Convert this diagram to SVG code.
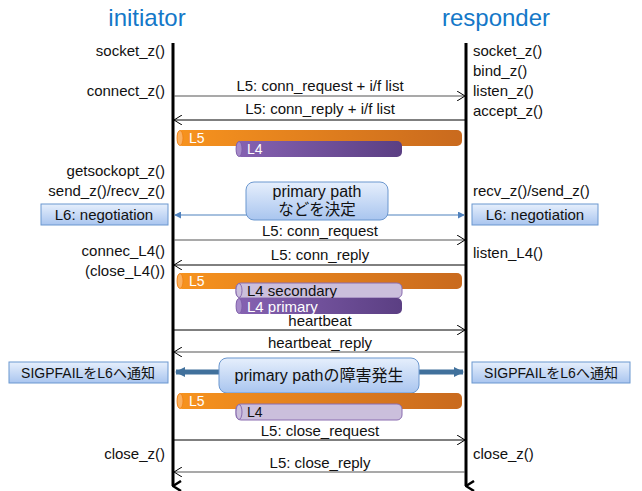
<svg xmlns="http://www.w3.org/2000/svg" width="642" height="491" viewBox="0 0 642 491">
<defs>
<linearGradient id="gOr" x1="0" x2="1" y1="0" y2="0"><stop offset="0" stop-color="#f7931e"/><stop offset="1" stop-color="#c96a1e"/></linearGradient>
<linearGradient id="gPu" x1="0" x2="1" y1="0" y2="0"><stop offset="0" stop-color="#8662b2"/><stop offset="1" stop-color="#5b3f83"/></linearGradient>
<linearGradient id="gBl" x1="0" x2="0" y1="0" y2="1"><stop offset="0" stop-color="#e6effc"/><stop offset="1" stop-color="#a9c5ef"/></linearGradient>
<marker id="open" viewBox="0 0 8 10" refX="8" refY="5" markerWidth="8" markerHeight="10" markerUnits="userSpaceOnUse" orient="auto-start-reverse"><path d="M0,0 L8,5 L0,10" fill="none" stroke="#000" stroke-width="1"/></marker>
<marker id="blu" viewBox="0 0 8 8" refX="7" refY="4" markerWidth="7" markerHeight="7" markerUnits="userSpaceOnUse" orient="auto-start-reverse"><path d="M0,0 L8,4 L0,8 Z" fill="#4f81bd"/></marker>
<marker id="thick" viewBox="0 0 10 10" refX="9" refY="5" markerWidth="10" markerHeight="12" markerUnits="userSpaceOnUse" orient="auto-start-reverse"><path d="M0,0 L10,5 L0,10 Z" fill="#41719c"/></marker>
<marker id="life" viewBox="0 0 12 10" refX="6" refY="9" markerWidth="12" markerHeight="10" markerUnits="userSpaceOnUse" orient="auto"><path d="M1,1 L6,9 L11,1" fill="none" stroke="#000" stroke-width="2.5"/></marker>
</defs>
<style>
text{font-family:"Liberation Sans","Noto Sans CJK JP",sans-serif;font-size:15px;fill:#111}
.title{font-size:24px;fill:#1478c8;text-anchor:middle}
.r{text-anchor:end}
.m{text-anchor:middle}
.sig{font-size:14px}
.msg{stroke:#000;stroke-width:1;fill:none}
.msgg{stroke:#555;stroke-width:1.2;fill:none}
.life{stroke:#000;stroke-width:3}
.box{fill:url(#gBl);stroke:#6b97cf;stroke-width:1}
.wt{fill:#fff}
.l5{fill:url(#gOr)}
.l4{fill:url(#gPu)}
.l4s{fill:#cbbfdc;stroke:#8a6db0;stroke-width:1}
.cap5{fill:#fbb060;stroke:#f07f10;stroke-width:0.8}
.cap4{fill:#a68ac9;stroke:#7a5aa5;stroke-width:0.8}
</style>

<g id="initiator"><text class="title" x="147" y="26">initiator</text></g>
<g id="responder"><text class="title" x="496" y="26">responder</text></g>

<g id="lifelines">
<line class="life" x1="173" y1="43" x2="173" y2="486" marker-end="url(#life)"/>
<line class="life" x1="466" y1="43" x2="466" y2="486" marker-end="url(#life)"/>
</g>

<g id="left-labels">
<text class="r" x="165" y="56">socket_z()</text>
<text class="r" x="165" y="96">connect_z()</text>
<text class="r" x="165" y="176">getsockopt_z()</text>
<text class="r" x="165" y="196">send_z()/recv_z()</text>
<text class="r" x="165" y="256">connec_L4()</text>
<text class="r" x="165" y="276">(close_L4())</text>
<text class="r" x="165" y="459">close_z()</text>
</g>
<g id="right-labels">
<text x="473" y="56">socket_z()</text>
<text x="473" y="76">bind_z()</text>
<text x="473" y="96">listen_z()</text>
<text x="473" y="116">accept_z()</text>
<text x="473" y="196">recv_z()/send_z()</text>
<text x="473" y="258">listen_L4()</text>
<text x="473" y="459">close_z()</text>
</g>

<g id="connectors">
<line class="msgg" x1="174" y1="96" x2="465" y2="96" marker-end="url(#open)"/>
<line class="msg" x1="465" y1="120" x2="174" y2="120" marker-end="url(#open)"/>
<line stroke="#4f81bd" stroke-width="1.2" x1="175" y1="215" x2="464" y2="215" marker-start="url(#blu)" marker-end="url(#blu)"/>
<line class="msgg" x1="174" y1="240" x2="465" y2="240" marker-end="url(#open)"/>
<line class="msg" x1="465" y1="265" x2="174" y2="265" marker-end="url(#open)"/>
<line class="msg" x1="174" y1="330" x2="465" y2="330" marker-end="url(#open)"/>
<line class="msgg" x1="465" y1="352" x2="174" y2="352" marker-end="url(#open)"/>
<line stroke="#41719c" stroke-width="5" x1="176" y1="372" x2="463" y2="372" marker-start="url(#thick)" marker-end="url(#thick)"/>
<line class="msg" x1="174" y1="440" x2="465" y2="440" marker-end="url(#open)"/>
<line class="msgg" x1="465" y1="472" x2="174" y2="472" marker-end="url(#open)"/>
</g>

<g id="msg-labels">
<text class="m" x="320" y="91">L5: conn_request + i/f list</text>
<text class="m" x="320" y="114">L5: conn_reply + i/f list</text>
<text class="m" x="320" y="236">L5: conn_request</text>
<text class="m" x="320" y="260">L5: conn_reply</text>
<text class="m" x="320" y="326">heartbeat</text>
<text class="m" x="320" y="348">heartbeat_reply</text>
<text class="m" x="320" y="436">L5: close_request</text>
<text class="m" x="320" y="468">L5: close_reply</text>
</g>

<g id="bars1">
<rect class="l5" x="177" y="130" width="285" height="16" rx="5"/>
<ellipse class="cap5" cx="180" cy="138" rx="3" ry="7.5"/>
<text class="wt" x="189" y="143" style="font-size:14px">L5</text>
<rect class="l4" x="236" y="141" width="166" height="16" rx="5"/>
<ellipse class="cap4" cx="239" cy="149" rx="3" ry="7.5"/>
<text class="wt" x="247" y="154" style="font-size:14px">L4</text>
</g>

<g id="decide">
<rect class="box" x="246" y="182" width="142" height="38" rx="8"/>
<text class="m" x="317" y="197" style="font-size:16px">primary path</text>
<text class="m" x="317" y="215" style="font-size:15.5px">などを決定</text>
</g>

<g id="neg-left"><rect class="box" x="41" y="204" width="127" height="21"/><text class="m" x="104" y="220">L6: negotiation</text></g>
<g id="neg-right"><rect class="box" x="472" y="204" width="126" height="21"/><text class="m" x="535" y="220">L6: negotiation</text></g>

<g id="bars2">
<rect class="l5" x="177" y="273" width="285" height="16" rx="5"/>
<ellipse class="cap5" cx="180" cy="281" rx="3" ry="7.5"/>
<text class="wt" x="189" y="286" style="font-size:14px">L5</text>
<rect class="l4s" x="236" y="283" width="166" height="15" rx="5"/>
<ellipse class="l4s" cx="239" cy="290.5" rx="3" ry="7"/>
<text x="247" y="296">L4 secondary</text>
<rect class="l4" x="236" y="298" width="166" height="16" rx="5"/>
<ellipse class="cap4" cx="239" cy="306" rx="3" ry="7.5"/>
<text class="wt" x="247" y="311.5">L4 primary</text>
</g>

<g id="failure">
<rect class="box" x="219" y="358" width="200" height="35" rx="8"/>
<text class="m" x="319" y="381" style="font-size:16px">primary pathの障害発生</text>
</g>

<g id="sig-left"><rect class="box" x="9" y="362" width="159" height="21"/><text class="m sig" x="88" y="377.5">SIGPFAILをL6へ通知</text></g>
<g id="sig-right"><rect class="box" x="472" y="362" width="158" height="21"/><text class="m sig" x="551" y="377.5">SIGPFAILをL6へ通知</text></g>

<g id="bars3">
<rect class="l5" x="177" y="393" width="285" height="16" rx="5"/>
<ellipse class="cap5" cx="180" cy="401" rx="3" ry="7.5"/>
<text class="wt" x="189" y="406" style="font-size:14px">L5</text>
<rect class="l4s" x="236" y="404" width="166" height="16" rx="5"/>
<ellipse class="l4s" cx="239" cy="412" rx="3" ry="7.5"/>
<text x="247" y="417" style="font-size:14px">L4</text>
</g>
</svg>
